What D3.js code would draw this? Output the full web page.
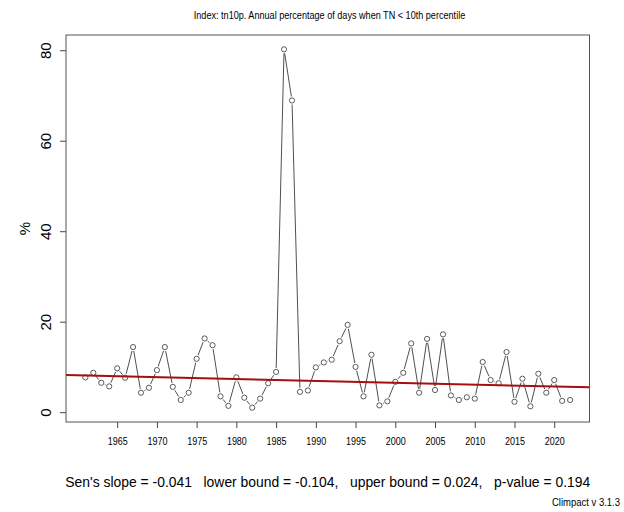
<!DOCTYPE html>
<html>
<head>
<meta charset="utf-8">
<script src="https://cdn.jsdelivr.net/npm/d3@7"></script>
<style>
  html, body { margin: 0; padding: 0; background: #fff; }
  svg { display: block; }
  .narrow { font-family: "Liberation Sans Narrow", "Arial Narrow", "Liberation Sans", sans-serif; }
  .wide { font-family: "Liberation Sans", Arial, sans-serif; }
  .pre { white-space: pre; }
</style>
</head>
<body>
<svg id="chart" width="624" height="512"></svg>
<script>
// ---- data ----
const years = d3.range(1961, 2023);
const values = [
  7.7, 8.7, 6.5, 5.7, 9.7, 7.6, 14.4, 4.3, 5.4, 9.3,
  14.4, 5.6, 2.7, 4.3, 11.8, 16.3, 14.8, 3.5, 1.4, 7.7,
  3.2, 1.0, 3.0, 6.4, 8.9, 80.2, 68.9, 4.5, 4.8, 9.9,
  11.0, 11.6, 15.7, 19.3, 10.0, 3.5, 12.7, 1.5, 2.4, 6.7,
  8.7, 15.2, 4.3, 16.2, 4.9, 17.2, 3.7, 2.7, 3.3, 3.0,
  11.1, 7.1, 6.4, 13.3, 2.3, 7.4, 1.3, 8.5, 4.3, 7.1,
  2.5, 2.7
];
const xTicks = [1965, 1970, 1975, 1980, 1985, 1990, 1995, 2000, 2005, 2010, 2015, 2020];
const yTicks = [0, 20, 40, 60, 80];
const senSlope = -0.041;
const trendAt1961 = 8.1;
const titleText = "Index: tn10p. Annual percentage of days when TN < 10th percentile";
const yLabel = "%";
const statsText = "Sen's slope = -0.041   lower bound = -0.104,   upper bound = 0.024,   p-value = 0.194";
const creditText = "Climpact v 3.1.3";

// ---- layout ----
const svg = d3.select("#chart");
const plot = { left: 66, right: 589.5, top: 35, bottom: 422 };

function padded(ext) {
  const d = ext[1] - ext[0];
  return [ext[0] - 0.04 * d, ext[1] + 0.04 * d];
}
const x = d3.scaleLinear().domain(padded(d3.extent(years))).range([plot.left, plot.right]);
const y = d3.scaleLinear().domain(padded(d3.extent(values))).range([plot.bottom, plot.top]);

// condensed text: natural font, then horizontally scaled to a target width
function condensed(parent, txt, px, py, size, width, anchor, extraClass) {
  const g = parent.append("g");
  const t = g.append("text").attr("class", "narrow " + (extraClass || ""))
    .attr("x", 0).attr("y", 0).attr("text-anchor", anchor)
    .attr("font-size", size).attr("fill", "#000").text(txt);
  const len = t.node().getComputedTextLength();
  const s = Math.min(1, width / len);
  g.attr("transform", `translate(${px},${py}) scale(${s},1)`);
  return g;
}

// title
condensed(svg, titleText, 329.5, 19, 11, 272, "middle");

// axes
const xAxis = d3.axisBottom(x).tickValues(xTicks).tickFormat(d3.format("d")).tickSize(6).tickSizeOuter(0);
const gx = svg.append("g").attr("transform", `translate(0,${plot.bottom})`).call(xAxis);
gx.select(".domain").remove();
gx.selectAll(".tick line").attr("stroke", "#444");
gx.selectAll(".tick text").remove();
gx.selectAll(".tick").each(function (d) {
  condensed(d3.select(this), d3.format("d")(d), 0, 23, 11.5, 20, "middle");
});

const yAxis = d3.axisLeft(y).tickValues(yTicks).tickFormat(d3.format("d")).tickSize(6).tickSizeOuter(0);
const gy = svg.append("g").attr("transform", `translate(${plot.left},0)`).call(yAxis);
gy.select(".domain").remove();
gy.selectAll(".tick line").attr("stroke", "#444");
gy.selectAll(".tick text").remove();
gy.selectAll(".tick").append("text")
  .attr("class", "wide")
  .attr("transform", "translate(-20,0) rotate(-90)")
  .attr("text-anchor", "middle").attr("dy", "0.36em")
  .attr("font-size", 15).attr("fill", "#000")
  .text(d => d);

// y label
svg.append("text").attr("class", "wide")
  .attr("transform", `translate(25,${(plot.top + plot.bottom) / 2}) rotate(-90)`)
  .attr("text-anchor", "middle").attr("dy", "0.36em")
  .attr("font-size", 15).attr("fill", "#000")
  .text(yLabel);

// clip
svg.append("clipPath").attr("id", "clip").append("rect")
  .attr("x", plot.left).attr("y", plot.top)
  .attr("width", plot.right - plot.left).attr("height", plot.bottom - plot.top);

// type "b" segments with gaps
const pts = years.map((yr, i) => [x(yr), y(values[i])]);
const gap = 4;
const segs = [];
for (let i = 0; i < pts.length - 1; i++) {
  const [x0, y0] = pts[i], [x1, y1] = pts[i + 1];
  const dx = x1 - x0, dy = y1 - y0, L = Math.hypot(dx, dy);
  if (L > 2 * gap) {
    const ux = dx / L, uy = dy / L;
    segs.push([x0 + ux * gap, y0 + uy * gap, x1 - ux * gap, y1 - uy * gap]);
  }
}
svg.append("g").selectAll("line").data(segs).join("line")
  .attr("x1", d => d[0]).attr("y1", d => d[1]).attr("x2", d => d[2]).attr("y2", d => d[3])
  .attr("stroke", "#222").attr("stroke-width", 0.8);

svg.append("g").selectAll("circle").data(pts).join("circle")
  .attr("cx", d => d[0]).attr("cy", d => d[1]).attr("r", 2.6)
  .attr("fill", "none").attr("stroke", "#333").attr("stroke-width", 0.8);

// trend line (abline across plot)
const [xd0, xd1] = x.domain();
svg.append("line").attr("clip-path", "url(#clip)")
  .attr("x1", x(xd0)).attr("y1", y(trendAt1961 + senSlope * (xd0 - 1961)))
  .attr("x2", x(xd1)).attr("y2", y(trendAt1961 + senSlope * (xd1 - 1961)))
  .attr("stroke", "#a50f0f").attr("stroke-width", 2);

// box
svg.append("rect").attr("x", plot.left).attr("y", plot.top)
  .attr("width", plot.right - plot.left).attr("height", plot.bottom - plot.top)
  .attr("fill", "none").attr("stroke", "#555").attr("stroke-width", 1);

// stats text
condensed(svg, statsText, (plot.left + plot.right) / 2, 487, 15.5, 525, "middle", "pre");

// credit
condensed(svg, creditText, 620, 506, 10.5, 68, "end");
</script>
</body>
</html>
